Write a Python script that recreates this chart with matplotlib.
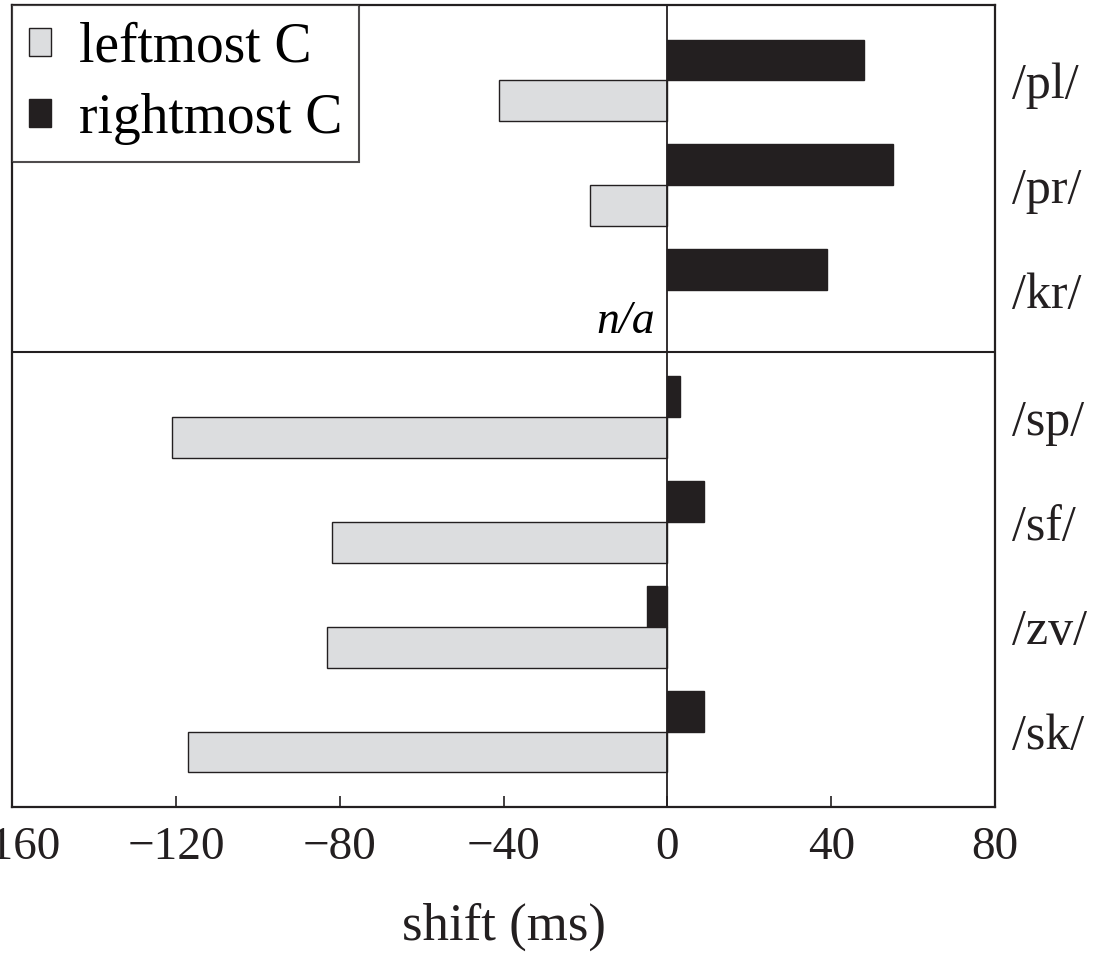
import numpy as np
import matplotlib.pyplot as plt
from matplotlib.patches import Patch

# datos
clusters = ["/pl/", "/pr/", "/kr/", "/sp/", "/sf/", "/zv/", "/sk/"]
leftmost = [-41, -19, np.nan, -121, -82, -83, -117]   # /kr/ sin dato (n/a)
rightmost = [48, 55, 39, 3, 9, -5, 9]
xticks = [-160, -120, -80, -40, 0, 40, 80]

plt.rcParams['font.family'] = ['Liberation Serif', 'DejaVu Serif']

# posiciones: 3 grupos arriba, 4 abajo con un hueco extra
gap = 0.21
pos = np.array([i if i < 3 else i + gap for i in range(len(clusters))])
h = 0.39

fig = plt.figure(figsize=(10.95, 9.57), dpi=100)
ax = fig.add_axes([0.011, 0.1567, 0.8977, 0.8381])

ax.barh(pos - h / 2, rightmost, height=h, color="#231f20", edgecolor="#231f20", lw=1, zorder=3)
ax.barh(pos + h / 2, leftmost, height=h, color="#dcdddf", edgecolor="#231f20", lw=1, zorder=3)

ax.axvline(0, color="#231f20", lw=1.3, zorder=4)
ax.axhline(2 + 0.59, color="#231f20", lw=1.5, zorder=4)

ax.text(-3, 2.3, "n/a", style="italic", fontsize=33, ha="right", va="center")

ax.set_xlim(-160, 80)
ax.set_ylim(pos[-1] + 0.72, -0.72)
ax.set_xticks(xticks)
ax.set_xticklabels([str(t).replace("-", "\u2212") for t in xticks], fontsize=34)
ax.tick_params(axis="x", direction="in", length=8, width=1.2, pad=14, colors="#231f20")
ax.yaxis.tick_right()
ax.set_yticks(pos)
ax.set_yticklabels(clusters, fontsize=36)
ax.tick_params(axis="y", length=0, pad=12, colors="#231f20")
ax.set_xlabel("shift (ms)", fontsize=38, labelpad=24, color="#231f20")
for s in ax.spines.values():
    s.set_linewidth(1.6)
    s.set_color("#231f20")

handles = [Patch(facecolor="#dcdddf", edgecolor="#231f20", lw=1, label="leftmost C"),
           Patch(facecolor="#231f20", edgecolor="#231f20", lw=1, label="rightmost C")]
leg = ax.legend(handles=handles, loc="upper left", bbox_to_anchor=(0, 1), fontsize=40,
                frameon=True, fancybox=False, borderaxespad=0, handlelength=0.4,
                handleheight=0.4, handletextpad=0.5, borderpad=0.3, labelspacing=0.35)
leg.get_frame().set_edgecolor("#231f20")
leg.get_frame().set_linewidth(1.5)

plt.savefig("out.png", dpi=100)
